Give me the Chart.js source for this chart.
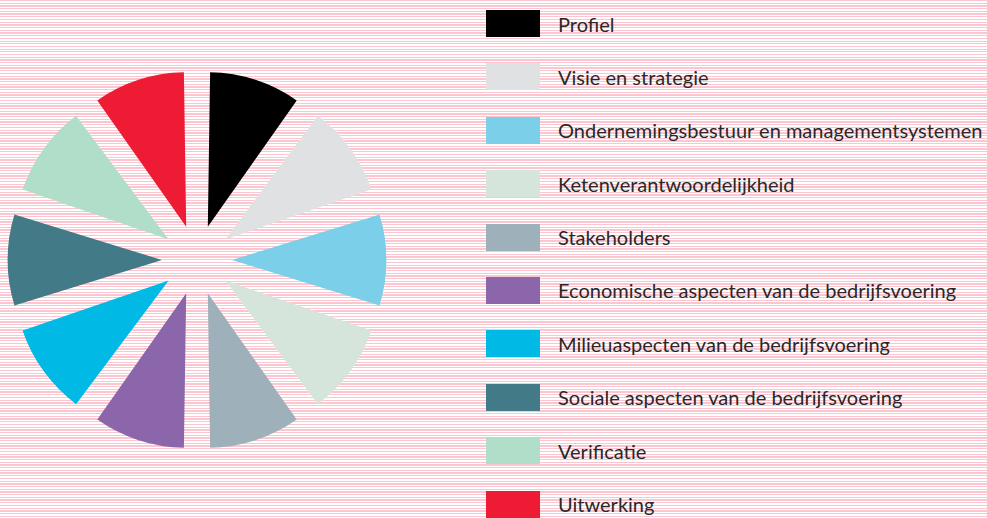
<!DOCTYPE html>
<html>
<head>
<meta charset="utf-8">
<script src="https://cdn.jsdelivr.net/npm/chart.js@4.4.1/dist/chart.umd.min.js"></script>
<style>
  html, body {
    margin: 0;
    padding: 0;
    width: 987px;
    height: 519px;
    overflow: hidden;
    background-color: #fff;
    background-image: repeating-linear-gradient(to bottom, #fbc6cf 0px, #fbc6cf 1.2px, #fff 1.2px, #fff 2.7px);
  }
  #pieWrap {
    position: absolute;
    left: 0;
    top: 0;
    width: 400px;
    height: 519px;
  }
  #legend {
    position: absolute;
    left: 486px;
    top: 10px;
    margin: 0;
    padding: 0;
    list-style: none;
    font-family: Lato, "Open Sans", sans-serif;
    font-size: 20px;
    color: #2b2728;
  }
  #legend li {
    height: 27px;
    margin-bottom: 26.4px;
    display: flex;
    align-items: center;
    white-space: nowrap;
  }
  #legend .box {
    width: 54px;
    height: 27px;
    margin-right: 18px;
    flex: none;
  }
</style>
</head>
<body>
<div id="pieWrap"><canvas id="pie"></canvas></div>
<ul id="legend"></ul>
<script>
// Onderdelen van het verslag, elk een gelijk deel
const labels = [
    'Profiel',
    'Visie en strategie',
    'Ondernemingsbestuur en managementsystemen',
    'Ketenverantwoordelijkheid',
    'Stakeholders',
    'Economische aspecten van de bedrijfsvoering',
    'Milieuaspecten van de bedrijfsvoering',
    'Sociale aspecten van de bedrijfsvoering',
    'Verificatie',
    'Uitwerking'
];
const values = [1, 1, 1, 1, 1, 1, 1, 1, 1, 1];
const colors = [
    '#000000',
    '#e0e1e3',
    '#7ccfe9',
    '#d6e5dc',
    '#9eb0ba',
    '#8b66ab',
    '#00b9e5',
    '#427a87',
    '#b1dec9',
    '#ee1b34'
];

const chart = new Chart(document.getElementById('pie'), {
    type: 'pie',
    data: {
        labels: labels,
        datasets: [{
            data: values,
            backgroundColor: colors,
            borderWidth: 0,
            offset: 140,
            hoverOffset: 0
        }]
    },
    options: {
        animation: false,
        maintainAspectRatio: false,
        responsive: true,
        radius: 140,
        layout: {
            padding: { right: 6, top: 1 }
        },
        events: [],
        plugins: {
            legend: { display: false },
            tooltip: { enabled: false }
        }
    }
});

// legend built from the chart's own legend items
const ul = document.getElementById('legend');
chart.options.plugins.legend.labels.generateLabels(chart).forEach(item => {
    const li = document.createElement('li');
    const box = document.createElement('span');
    box.className = 'box';
    box.style.background = item.fillStyle;
    const txt = document.createElement('span');
    txt.textContent = item.text;
    li.appendChild(box);
    li.appendChild(txt);
    ul.appendChild(li);
});
</script>
</body>
</html>
